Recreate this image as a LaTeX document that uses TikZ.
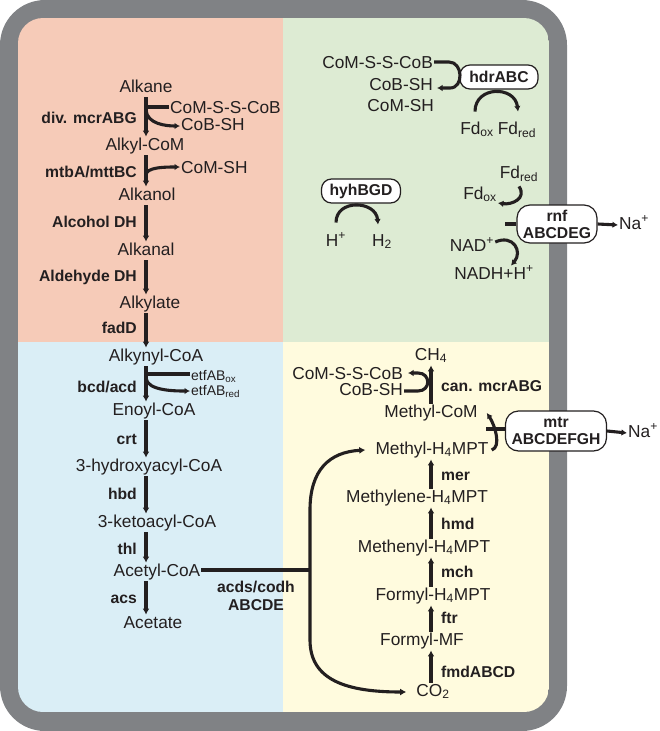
\documentclass[tikz,border=0pt]{standalone}
\usepackage{fontspec}
\setmainfont{Liberation Sans}
\usepackage{xcolor}
\definecolor{membgray}{RGB}{128,130,133}
\definecolor{oxpink}{RGB}{246,203,184}
\definecolor{hydgreen}{RGB}{221,235,211}
\definecolor{betablue}{RGB}{218,238,246}
\definecolor{methyellow}{RGB}{255,251,222}
\definecolor{ink}{RGB}{35,31,32}
\usepackage{tikz}
\usetikzlibrary{positioning, arrows.meta}

\begin{document}
\begin{tikzpicture}[x=1pt, y=-1pt, >={Latex[length=6pt,width=7pt]},
    cpd/.style={font=\fontsize{17.3}{20}\selectfont, text=ink, inner sep=1pt, text height=12.5pt, text depth=4pt},
    enz/.style={font=\fontsize{15.7}{18}\selectfont\bfseries, text=ink, inner sep=1pt, text height=12pt, text depth=4pt},
    carrier/.style={font=\fontsize{14}{15}\selectfont, text=ink, inner sep=1pt, text height=10pt, text depth=4pt},
    cplx/.style={draw=ink, fill=white, line width=1.2pt, rounded corners=13pt, align=center, font=\fontsize{15.7}{17}\selectfont\bfseries, text=ink, inner sep=2pt},
    rxn/.style={draw=ink, line width=3.4pt, ->},
    side/.style={draw=ink, line width=3.1pt},
    sidearr/.style={side, -{Latex[length=5.5pt,width=6.5pt]}}]
    \useasboundingbox (0,0) rectangle (659,731);
    \fill[membgray, rounded corners=45pt] (0,0) rectangle (567,731);
    \begin{scope}
        \clip[rounded corners=25pt] (18,18) rectangle (549,712);
        \fill[oxpink] (18,18) rectangle (283,342);
        \fill[hydgreen] (283,18) rectangle (549,342);
        \fill[betablue] (18,342) rectangle (283,712);
        \fill[methyellow] (283,342) rectangle (549,712);
    \end{scope}

    \coordinate (laxis) at (146,0);
    \coordinate (raxis) at (431,0);
    \coordinate (cdh) at (310,0);
    \coordinate (cdhtop) at (310,510);
    \coordinate (cdhbot) at (310,640);

    \node[cpd] (alkane) at (146,88) {Alkane};
    \node[cpd] (alkylcom) at (145,146) {Alkyl-CoM};
    \node[cpd] (alkanol) at (147,196) {Alkanol};
    \node[cpd] (alkanal) at (146,251) {Alkanal};
    \node[cpd] (alkylate) at (150,304) {Alkylate};
    \node[cpd] (alkynylcoa) at (156,357) {Alkynyl-CoA};
    \node[cpd] (enoylcoa) at (154,411) {Enoyl-CoA};
    \node[cpd] (hydroxycoa) at (149,467) {3-hydroxyacyl-CoA};
    \node[cpd] (ketocoa) at (157,523) {3-ketoacyl-CoA};
    \node[cpd] (acetylcoa) at (157,572) {Acetyl-CoA};
    \node[cpd] (acetate) at (153,624) {Acetate};

    \node[enz, anchor=east] (divmcr) at (138,119) {div. mcrABG};
    \node[enz, anchor=east] (mtba) at (138,173) {mtbA/mttBC};
    \node[enz, anchor=east] (adh) at (138,223) {Alcohol DH};
    \node[enz, anchor=east] (aldh) at (138,277) {Aldehyde DH};
    \node[enz, anchor=east] (fadd) at (138,329) {fadD};
    \node[enz, anchor=east] (bcd) at (138,388) {bcd/acd};
    \node[enz, anchor=east] (crt) at (138,440) {crt};
    \node[enz, anchor=east] (hbd) at (138,495) {hbd};
    \node[enz, anchor=east] (thl) at (138,550) {thl};
    \node[enz, anchor=east] (acs) at (138,599) {acs};

    \node[cpd, anchor=west] (comsscob1) at (169,109) {CoM-S-S-CoB};
    \node[cpd, anchor=west] (cobsh1) at (180,126) {CoB-SH};
    \node[cpd, anchor=west] (comsh1) at (180,169) {CoM-SH};
    \node[carrier, anchor=west] (etfox) at (190,377) {etfAB\textsubscript{ox}};
    \node[carrier, anchor=west] (etfred) at (190,392) {etfAB\textsubscript{red}};

    \node[cpd] (ch4) at (431,356) {CH\textsubscript{4}};
    \node[cpd] (methylcom) at (431,413) {Methyl-CoM};
    \node[cpd] (methylh4mpt) at (432,450) {Methyl-H\textsubscript{4}MPT};
    \node[cpd] (methylene) at (417,498) {Methylene-H\textsubscript{4}MPT};
    \node[cpd] (methenyl) at (424,548) {Methenyl-H\textsubscript{4}MPT};
    \node[cpd] (formylh4mpt) at (433,596) {Formyl-H\textsubscript{4}MPT};
    \node[cpd] (formylmf) at (422,641) {Formyl-MF};
    \node[cpd] (co2) at (433,692) {CO\textsubscript{2}};

    \node[enz, anchor=west] (canmcr) at (440,387) {can. mcrABG};
    \node[enz, anchor=west] (mer) at (440,476) {mer};
    \node[enz, anchor=west] (hmd) at (440,525) {hmd};
    \node[enz, anchor=west] (mch) at (440,573) {mch};
    \node[enz, anchor=west] (ftr) at (440,619) {ftr};
    \node[enz, anchor=west] (fmd) at (440,673) {fmdABCD};
    \node[cpd, anchor=east] (comsscob2) at (404,375) {CoM-S-S-CoB};
    \node[cpd, anchor=east] (cobsh2) at (404,391) {CoB-SH};
    \node[font=\fontsize{15.7}{18}\selectfont\bfseries, text=ink, align=center] (cdhlabel) at (256,596) {acds/codh\\ABCDE};

    \node[cpd, anchor=east] (comsscob3) at (434,64) {CoM-S-S-CoB};
    \node[cpd, anchor=east] (cobsh3) at (434,86) {CoB-SH};
    \node[cpd, anchor=east] (comsh3) at (435,107) {CoM-SH};
    \node[cplx, minimum width=78pt, minimum height=24pt, rounded corners=10pt] (hdr) at (499,77) {hdrABC};
    \node[cpd] (fdox3) at (477,130) {Fd\textsubscript{ox}};
    \node[cpd] (fdred3) at (517,130) {Fd\textsubscript{red}};

    \node[cplx, minimum width=79pt, minimum height=24pt, rounded corners=10pt] (hyh) at (361,191) {hyhBGD};
    \node[cpd] (hplus) at (336,242) {H\textsuperscript{+}};
    \node[cpd] (h2) at (382,242) {H\textsubscript{2}};

    \node[cplx, minimum width=80pt, minimum height=38pt] (rnf) at (557,224) {rnf\\ABCDEG};
    \node[cpd] (na1) at (634,225) {Na\textsuperscript{+}};
    \node[cpd] (fdred4) at (519,174) {Fd\textsubscript{red}};
    \node[cpd] (fdox4) at (480,195) {Fd\textsubscript{ox}};
    \node[cpd] (nadplus) at (472,247) {NAD\textsuperscript{+}};
    \node[cpd] (nadh) at (494,275) {NADH+H\textsuperscript{+}};

    \node[cplx, minimum width=101pt, minimum height=40pt] (mtr) at (556,431) {mtr\\ABCDEFGH};
    \node[cpd] (na2) at (643,433) {Na\textsuperscript{+}};

    \foreach \a/\b in {alkane/alkylcom, alkylcom/alkanol, alkanol/alkanal, alkanal/alkylate, alkylate/alkynylcoa, alkynylcoa/enoylcoa, enoylcoa/hydroxycoa, hydroxycoa/ketocoa, ketocoa/acetylcoa, acetylcoa/acetate}
        \draw[rxn] (\a.south -| laxis) -- (\b.north -| laxis);
    \foreach \a/\b in {co2/formylmf, formylmf/formylh4mpt, formylh4mpt/methenyl, methenyl/methylene, methylene/methylh4mpt, methylcom/ch4}
        \draw[rxn] (\a.north -| raxis) -- (\b.south -| raxis);

    \draw[side] ([yshift=2pt]comsscob1.west) -- ([yshift=2pt]comsscob1.west -| laxis);
    \draw[sidearr] ([yshift=-1pt]comsscob1.west -| laxis) .. controls +(1,14) and +(-14,0) .. (cobsh1.west);
    \draw[sidearr] ([yshift=-6pt]comsh1.west -| laxis) .. controls +(0,-8) and +(-14,0) .. ([yshift=2pt]comsh1.west);
    \draw[side] ([yshift=3pt]etfox.west) -- ([yshift=3pt]etfox.west -| laxis);
    \draw[sidearr] ([yshift=-1pt]etfox.west -| laxis) .. controls +(1,13) and +(-14,0) .. ([yshift=1pt]etfred.west);

    \draw[sidearr] (cobsh2.east) -- ++(14,0) .. controls +(13,0) and +(13,0) .. ([xshift=14pt,yshift=2pt]comsscob2.east) -- ([xshift=4pt,yshift=2pt]comsscob2.east);
    \draw[side] ([yshift=2pt]acetylcoa.east) -- ([yshift=2pt]acetylcoa.east -| cdh);
    \draw[side, <->] ([xshift=-9pt]methylh4mpt.west) .. controls +(-36,2) and +(0,-40) .. (cdhtop) -- (cdhbot) .. controls +(0,40) and +(-60,0) .. ([xshift=-9pt]co2.west);

    \draw[side] ([yshift=2pt]mtr.west) -- ++(-19,0);
    \draw[sidearr] ([xshift=2pt]methylh4mpt.east) .. controls +(10,-3) and +(8,12) .. ([xshift=8pt]methylcom.east);
    \draw[sidearr] (mtr.east) -- (na2.west);

    \draw[sidearr] ([yshift=2pt]comsscob3.east) -- ++(15,0) .. controls +(14,0) and +(14,0) .. ([xshift=16pt,yshift=-2pt]cobsh3.east) -- ([xshift=3pt,yshift=-2pt]cobsh3.east);
    \draw[sidearr] ([xshift=-2pt,yshift=9pt]fdox3.north) .. controls +(0,-26) and +(-3,-26) .. ([xshift=1pt,yshift=9pt]fdred3.north);

    \draw[sidearr] ([yshift=10pt]hplus.north) .. controls +(0,-24) and +(-2,-24) .. ([xshift=-4pt,yshift=8pt]h2.north);

    \draw[side] (rnf.west) -- ++(-11,0);
    \draw[sidearr] (rnf.east) -- (na1.west);
    \draw[sidearr] ([yshift=-3pt]fdred4.south) .. controls +(8,12) and +(14,2) .. ([yshift=-8pt]fdox4.east);
    \draw[sidearr] ([yshift=5pt]nadplus.east) .. controls +(18,-8) and +(12,-14) .. ([xshift=17pt]nadh.north);
\end{tikzpicture}
\end{document}
